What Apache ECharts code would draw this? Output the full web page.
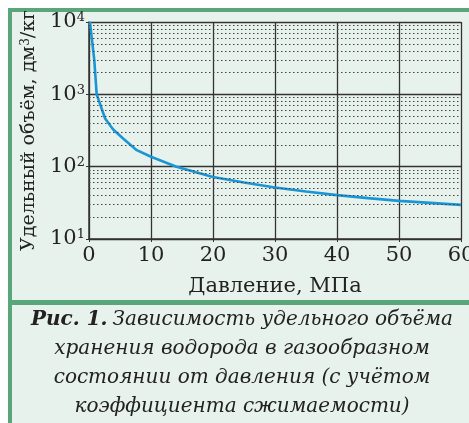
<!DOCTYPE html>
<html><head><meta charset="utf-8">
<script src="https://cdn.jsdelivr.net/npm/echarts@6/dist/echarts.min.js"></script>
<style>html,body{margin:0;padding:0;background:#fff}#c{width:469px;height:423px}</style>
</head><body><div id="c"></div>
<script>
// Data
const pressure = [0.15, 0.85, 1.24, 2.6, 3.9, 5.5, 7.7, 10, 14.1, 20, 25, 30, 35, 40, 45, 50, 55, 60];
const volume   = [10000, 3000, 1000, 463, 327, 245, 169, 137, 100, 72, 60.5, 51.6, 45.4, 40.4, 36.7, 33.7, 31.6, 29.6];
const xTicks = [0, 10, 20, 30, 40, 50, 60];
const yDecades = [10, 100, 1000, 10000];
const minorMultipliers = [2, 3, 4, 5, 6, 7, 8, 9];
const xName = 'Давление, МПа';
const yNameMain = 'Удельный объём, дм';
const yNameTail = '/кг';
const captionLines = ['Зависимость удельного объёма', 'хранения водорода в газообразном', 'состоянии от давления (с учётом', 'коэффициента сжимаемости)'];
const captionPrefix = 'Рис. 1.';

const FONT = 'DejaVu Serif';
const INK = '#222';
const GREEN = '#58a67a';
const BG = '#e8f2ec';

const minorLines = [];
yDecades.slice(0, -1).forEach(d => minorMultipliers.forEach(m => minorLines.push({ yAxis: d * m })));

const chart = echarts.init(document.getElementById('c'), null, { renderer: 'canvas' });
chart.setOption({
  animation: false,
  backgroundColor: BG,
  title: {
    left: 242, top: 305, textAlign: 'center', padding: 0,
    text: '{b|' + captionPrefix + '} {i|' + captionLines[0] + '}\n' + captionLines.slice(1).map(l => '{i|' + l + '}').join('\n'),
    textStyle: {
      fontWeight: 'normal',
      rich: {
        b: { fontFamily: FONT, fontStyle: 'italic', fontWeight: 'bold', fontSize: 20, color: INK, lineHeight: 29 },
        i: { fontFamily: FONT, fontStyle: 'italic', fontWeight: 'normal', fontSize: 20, color: INK, lineHeight: 29 }
      }
    }
  },
  graphic: [
    { type: 'rect', shape: { x: 0, y: 0, width: 469, height: 8 }, style: { fill: '#fff' }, silent: true },
    { type: 'rect', shape: { x: 0, y: 0, width: 8, height: 423 }, style: { fill: '#fff' }, silent: true },
    { type: 'rect', shape: { x: 8, y: 8, width: 461, height: 4 }, style: { fill: GREEN }, silent: true },
    { type: 'rect', shape: { x: 8, y: 8, width: 4, height: 415 }, style: { fill: GREEN }, silent: true },
    { type: 'rect', shape: { x: 8, y: 300, width: 461, height: 5 }, style: { fill: GREEN }, silent: true }
  ],
  grid: { left: 89, right: 8, top: 22, bottom: 184, containLabel: false, outerBoundsMode: 'none' },
  xAxis: {
    type: 'value', min: xTicks[0], max: xTicks[xTicks.length - 1], interval: 10,
    name: xName, nameLocation: 'middle', nameGap: 37,
    nameTextStyle: { fontFamily: FONT, fontSize: 21, color: INK },
    axisLine: { show: true, lineStyle: { color: '#333', width: 1.5 } },
    axisTick: { show: true, length: 3, lineStyle: { color: '#333' } },
    axisLabel: { fontFamily: FONT, fontSize: 21, color: INK, margin: 6 },
    splitLine: { show: true, lineStyle: { color: '#333', width: 1.3 } }
  },
  yAxis: {
    type: 'log', logBase: 10, min: yDecades[0], max: yDecades[yDecades.length - 1],
    name: yNameMain + '{s|3}' + yNameTail, nameLocation: 'middle', nameGap: 50,
    nameTextStyle: {
      fontFamily: FONT, fontSize: 19, color: INK,
      rich: { s: { fontFamily: FONT, fontSize: 12, color: INK, verticalAlign: 'top' } }
    },
    axisLine: { show: true, lineStyle: { color: '#333', width: 1.5 } },
    axisTick: { show: true, length: 3, lineStyle: { color: '#333' } },
    axisLabel: {
      margin: 4,
      formatter: v => '{b|10}{s|' + Math.round(Math.log10(v)) + '}',
      rich: {
        b: { fontFamily: FONT, fontSize: 21, color: INK },
        s: { fontFamily: FONT, fontSize: 13, color: INK, verticalAlign: 'top' }
      }
    },
    splitLine: { show: true, lineStyle: { color: '#333', width: 1.3 } }
  },
  series: [{
    type: 'line',
    data: pressure.map((p, i) => [p, volume[i]]),
    symbol: 'none', smooth: false, clip: true,
    lineStyle: { color: '#1896d6', width: 2.6 },
    markLine: {
      silent: true, symbol: 'none', label: { show: false },
      lineStyle: { type: [1.5, 2.5], color: '#444', width: 1 },
      data: minorLines
    },
    z: 3
  }]
});
</script></body></html>
